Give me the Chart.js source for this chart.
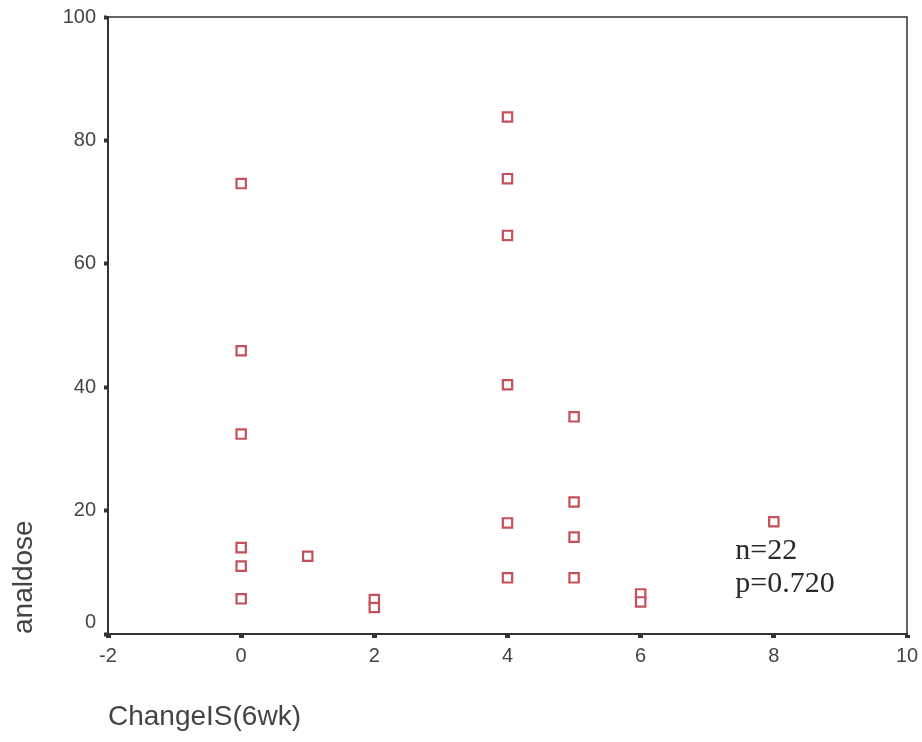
<!DOCTYPE html>
<html>
<head>
<meta charset="utf-8">
<script src="https://cdn.jsdelivr.net/npm/chart.js@4.4.1/dist/chart.umd.min.js"></script>
<style>
  html, body { margin: 0; padding: 0; background: #ffffff; }
  #wrap { width: 922px; height: 742px; position: relative; }
</style>
</head>
<body>
<div id="wrap"><canvas id="scatter"></canvas></div>
<script>
// ChangeIS(6wk) vs analdose, one entry per case
const changeIS = [0, 0, 0, 0, 0, 0, 1, 2, 2, 4, 4, 4, 4, 4, 4, 5, 5, 5, 5, 6, 6, 8]
const analdose = [73.0, 45.9, 32.4, 14.0, 11.0, 5.7, 12.6, 5.6, 4.3, 83.8, 73.8, 64.6, 40.4, 18.0, 9.1, 35.2, 21.4, 15.7, 9.1, 6.5, 5.2, 18.2]

const xTicks = [-2, 0, 2, 4, 6, 8, 10]
const yTicks = [0, 20, 40, 60, 80, 100]
const statLines = ['n=22', 'p=0.720']
const statAnchor = { x: 7.42, y: 12.2 }

const axisColor = '#333333'
const labelColor = '#444444'
const markerColor = '#c4505a'

// box round the plot area, the lifted "0" label and the n/p note
const framePlugin = {
  id: 'frame',
  afterDraw(chart) {
    const { ctx, chartArea: a, scales } = chart
    ctx.save()
    ctx.strokeStyle = axisColor
    ctx.lineWidth = 1.5
    ctx.beginPath()
    ctx.moveTo(a.left, a.top)
    ctx.lineTo(a.right, a.top)
    ctx.lineTo(a.right, a.bottom)
    ctx.stroke()

    ctx.fillStyle = labelColor
    ctx.font = '20px "Liberation Sans", Arial, sans-serif'
    ctx.textAlign = 'right'
    ctx.textBaseline = 'middle'
    ctx.fillText('0', a.left - 12, scales.y.getPixelForValue(yTicks[0]) - 12)

    ctx.fillStyle = '#2a2a2a'
    ctx.font = '30px "Liberation Serif", "Times New Roman", serif'
    ctx.textAlign = 'left'
    ctx.textBaseline = 'alphabetic'
    const px = scales.x.getPixelForValue(statAnchor.x)
    const py = scales.y.getPixelForValue(statAnchor.y)
    statLines.forEach((t, i) => ctx.fillText(t, px, py + i * 33))
    ctx.restore()
  }
}

const tickFont = { family: '"Liberation Sans", Arial, sans-serif', size: 20 }

new Chart(document.getElementById('scatter'), {
  type: 'scatter',
  data: {
    datasets: [{
      label: 'analdose',
      data: changeIS.map((x, i) => ({ x, y: analdose[i] })),
      pointStyle: 'rect',
      pointRadius: 6.6,
      pointHoverRadius: 6.6,
      borderWidth: 2.2,
      borderColor: markerColor,
      backgroundColor: '#ffffff'
    }]
  },
  options: {
    responsive: true,
    maintainAspectRatio: false,
    animation: false,
    layout: { padding: { top: 17, right: 15, bottom: 0, left: 0 } },
    plugins: {
      legend: { display: false },
      tooltip: { enabled: false }
    },
    scales: {
      x: {
        type: 'linear',
        min: xTicks[0],
        max: xTicks[xTicks.length - 1],
        afterBuildTicks: s => { s.ticks = xTicks.map(v => ({ value: v })) },
        // fixed band height, and no extra room for the end labels
        afterFit: s => { s.height = 108; s.paddingLeft = 0; s.paddingRight = 0 },
        border: { display: true, color: axisColor, width: 2 },
        grid: { drawOnChartArea: false, drawTicks: true, tickLength: 4, tickWidth: 5, tickColor: axisColor },
        ticks: { color: labelColor, font: tickFont, padding: 6, maxRotation: 0 },
        title: {
          display: true,
          text: 'ChangeIS(6wk)',
          align: 'start',
          color: labelColor,
          font: { family: '"Liberation Sans", Arial, sans-serif', size: 28 },
          padding: { top: 0, bottom: 8 }
        }
      },
      y: {
        type: 'linear',
        min: yTicks[0],
        max: yTicks[yTicks.length - 1],
        afterBuildTicks: s => { s.ticks = yTicks.map(v => ({ value: v })) },
        afterFit: s => { s.width = 108; s.paddingTop = 0; s.paddingBottom = 0 },
        border: { display: true, color: axisColor, width: 2 },
        grid: { drawOnChartArea: false, drawTicks: true, tickLength: 4, tickWidth: 4, tickColor: axisColor },
        ticks: {
          color: labelColor,
          font: tickFont,
          padding: 8,
          callback: v => (v === yTicks[0] ? '' : v)
        },
        title: {
          display: true,
          text: 'analdose',
          align: 'start',
          color: labelColor,
          font: { family: '"Liberation Sans", Arial, sans-serif', size: 28 },
          padding: { top: 7, bottom: 0 }
        }
      }
    }
  },
  plugins: [framePlugin]
})
</script>
</body>
</html>
